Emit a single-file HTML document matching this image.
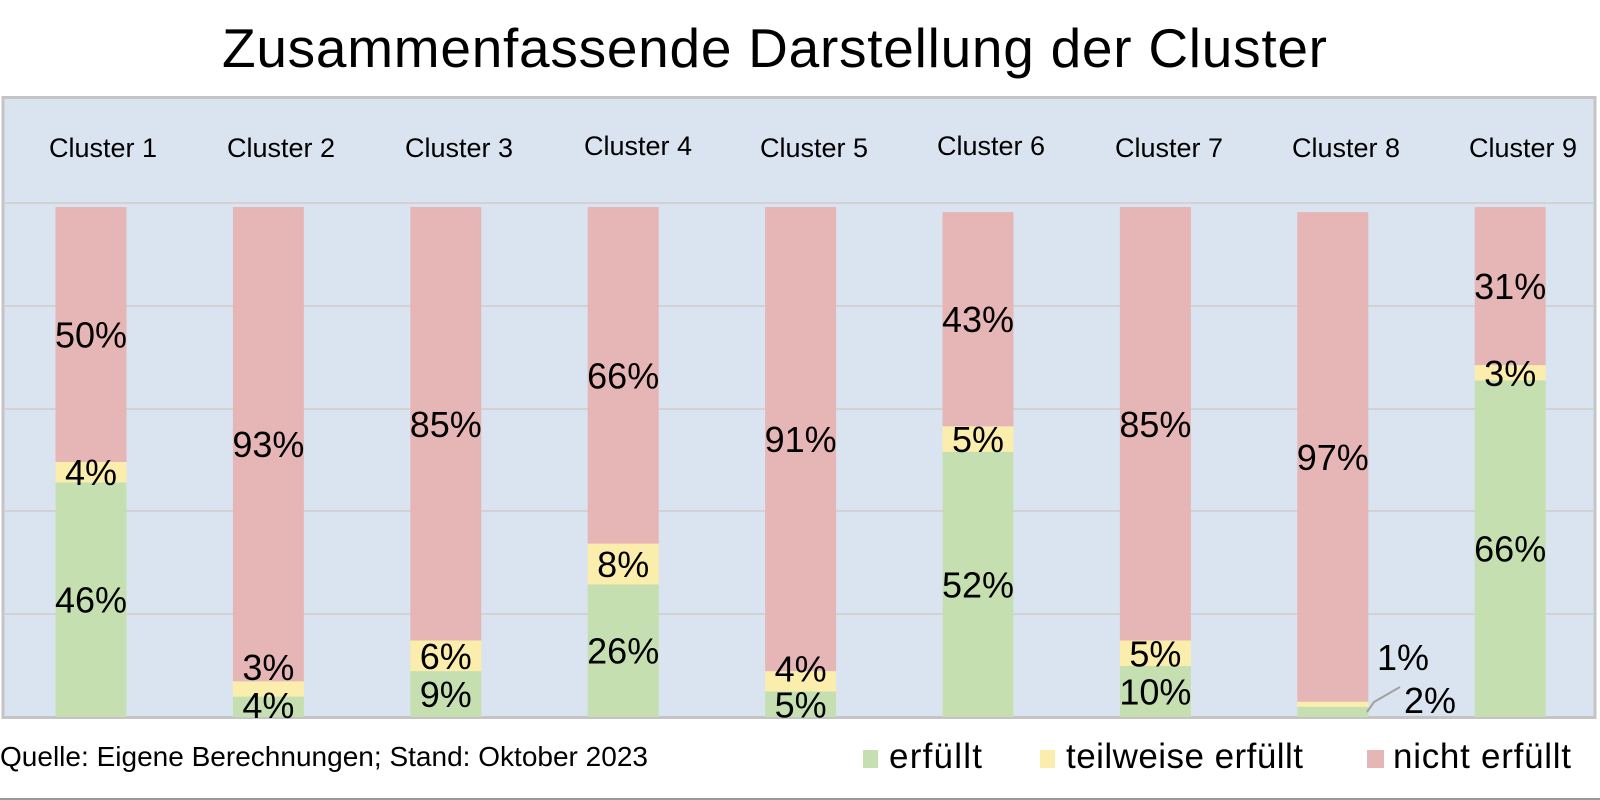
<!DOCTYPE html>
<html><head><meta charset="utf-8"><style>html,body{margin:0;padding:0;background:#fff}svg{display:block}</style></head>
<body>
<svg width="1600" height="800" viewBox="0 0 1600 800" xmlns="http://www.w3.org/2000/svg" font-family="Liberation Sans, Arial, sans-serif">
<rect x="0" y="0" width="1600" height="800" fill="#fff"/>
<text x="222" y="67" font-size="55" textLength="1105" fill="#000">Zusammenfassende Darstellung der Cluster</text>
<rect x="3" y="97.5" width="1592" height="620" fill="#dae4f1" stroke="#c4c4c4" stroke-width="3"/>
<g stroke="#d2d2d2" stroke-width="2">
<line x1="4" y1="203" x2="1594" y2="203"/>
<line x1="4" y1="306" x2="1594" y2="306"/>
<line x1="4" y1="409" x2="1594" y2="409"/>
<line x1="4" y1="511" x2="1594" y2="511"/>
<line x1="4" y1="614" x2="1594" y2="614"/>
</g>
<g id="bars"></g>
<g id="labels" font-size="36" text-anchor="middle" fill="#000"></g>
<g font-size="27" text-anchor="middle" fill="#000">
<text x="103" y="157">Cluster 1</text>
<text x="281" y="157">Cluster 2</text>
<text x="459" y="157">Cluster 3</text>
<text x="638" y="155">Cluster 4</text>
<text x="814" y="157">Cluster 5</text>
<text x="991" y="155">Cluster 6</text>
<text x="1169" y="157">Cluster 7</text>
<text x="1346" y="157">Cluster 8</text>
<text x="1523" y="157">Cluster 9</text>
</g>
<polyline points="1367,712 1374,702 1400,687" fill="none" stroke="#a0a0a0" stroke-width="2"/>
<text x="0" y="766" font-size="28" textLength="648" fill="#000">Quelle: Eigene Berechnungen; Stand: Oktober 2023</text>
<rect x="863" y="750" width="15" height="18" fill="#c5dfb0"/>
<text x="889" y="768" font-size="35" textLength="93">erfüllt</text>
<rect x="1040" y="750" width="15" height="18" fill="#fbedab"/>
<text x="1066" y="768" font-size="35" textLength="237">teilweise erfüllt</text>
<rect x="1367" y="750" width="17" height="18" fill="#e6b5b5"/>
<text x="1393" y="768" font-size="35" textLength="178">nicht erfüllt</text>
<line x1="0" y1="799" x2="1600" y2="799" stroke="#999" stroke-width="2"/>
<script>
var d=[[46,4,50],[4,3,93],[9,6,85],[26,8,66],[5,4,91],[52,5,43],[10,5,85],[2,1,97],[66,3,31]];
var dh=[[46,4,50],[4,3,93],[9,6,85],[26,8,66],[5,4,91],[52,5,42],[10,5,85],[2,1,96],[66,3,31]];
var off=[[0,0,0],[-2,-22,0],[0,0,0],[0,0,0],[0,-13,0],[0,0,0],[0,0,0],[0,0,0],[0,0,0]];
var cols=["#c5dfb0","#fbedab","#e6b5b5"];
var s=5.1,base=717,ns="http://www.w3.org/2000/svg",g=document.getElementById("bars"),L=document.getElementById("labels");
for(var i=0;i<9;i++){var cx=91+i*177.4,y=base;
 for(var k=0;k<3;k++){var h=dh[i][k]*s;y-=h;
  var r=document.createElementNS(ns,"rect");r.setAttribute("x",cx-35.5);r.setAttribute("y",y);r.setAttribute("width",71);r.setAttribute("height",h);r.setAttribute("fill",cols[k]);g.appendChild(r);
  var t=document.createElementNS(ns,"text");
  var tx=cx,ty=y+h/2+off[i][k];
  if(i==7&&k<2){tx=k==0?1430:1403;ty=k==0?700:657;}
  t.setAttribute("x",tx);t.setAttribute("y",ty+13);t.textContent=d[i][k]+"%";L.appendChild(t);}
}
</script>
</svg>
</body></html>
